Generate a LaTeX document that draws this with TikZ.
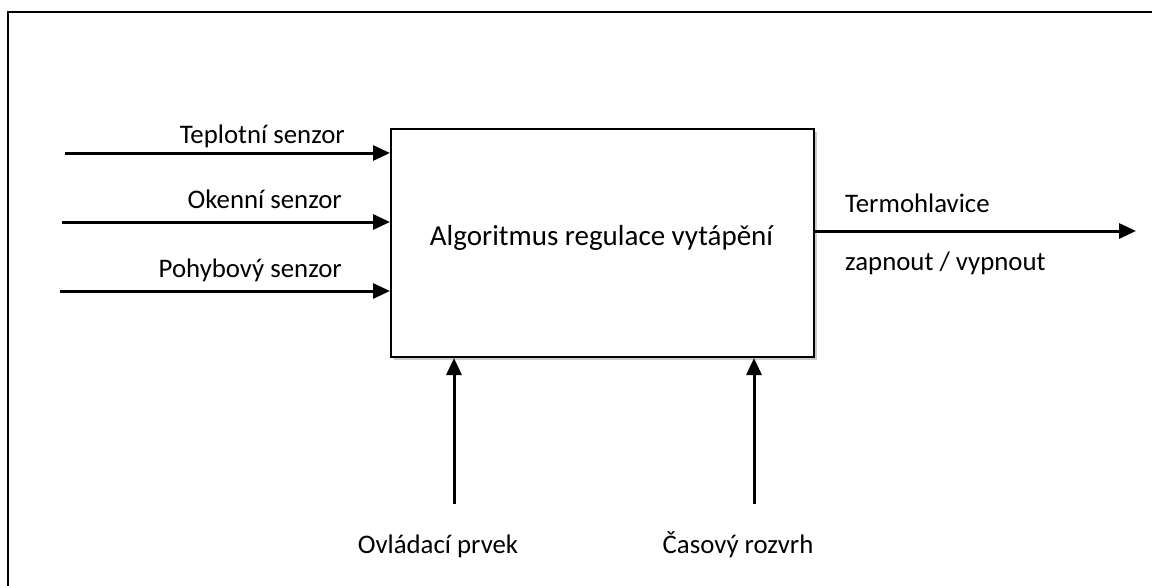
\documentclass[tikz,border=0pt]{standalone}
\usepackage{fontspec}
\setmainfont{Carlito}
\usetikzlibrary{arrows.meta,shadows}
\begin{document}
\begin{tikzpicture}[x=1pt,y=-1pt,
  lbl/.style={inner sep=0pt,font=\fontsize{26.8}{30}\selectfont},
  biglbl/.style={inner sep=0pt,font=\fontsize{29}{33}\selectfont},
  conn/.style={line width=3pt,-{Triangle[length=17pt,width=15pt]}},
  mainbox/.style={draw,line width=2pt,fill=white,inner sep=0pt,
    drop shadow={opacity=0.4,shadow xshift=2.5pt,shadow yshift=-3pt}}]
\useasboundingbox (0,0) rectangle (1152,586);
\draw[line width=2.2pt] (8,590) -- (8,12) -- (1156,12);
\node[mainbox,minimum width=423pt,minimum height=228pt,anchor=north west] (alg) at (390,128) {};
\node[biglbl] (algt) at (601.5,238) {Algoritmus regulace vytápění};
% inputs
\coordinate (s1) at (65,153);
\coordinate (s2) at (62,222);
\coordinate (s3) at (60,291);
\draw[conn] (s1) -- (s1 -| alg.west);
\draw[conn] (s2) -- (s2 -| alg.west);
\draw[conn] (s3) -- (s3 -| alg.west);
\node[lbl,anchor=base east] (t1) at (345,143) {Teplotní senzor};
\node[lbl,anchor=base east] (t2) at (342,208) {Okenní senzor};
\node[lbl,anchor=base east] (t3) at (342,277) {Pohybový senzor};
% output
\coordinate (o1) at (1136,231);
\draw[conn] (o1 -| alg.east) -- (o1);
\node[lbl,anchor=base west] (to1) at (845,212) {Termohlavice};
\node[lbl,anchor=base west] (to2) at (845,270) {zapnout / vypnout};
% controls
\coordinate (c1) at (454,504);
\coordinate (c2) at (754,504);
\draw[conn] (c1) -- (c1 |- alg.south);
\draw[conn] (c2) -- (c2 |- alg.south);
\node[lbl,anchor=base] (tc1) at (438,553) {Ovládací prvek};
\node[lbl,anchor=base] (tc2) at (738,553) {Časový rozvrh};
\end{tikzpicture}
\end{document}
